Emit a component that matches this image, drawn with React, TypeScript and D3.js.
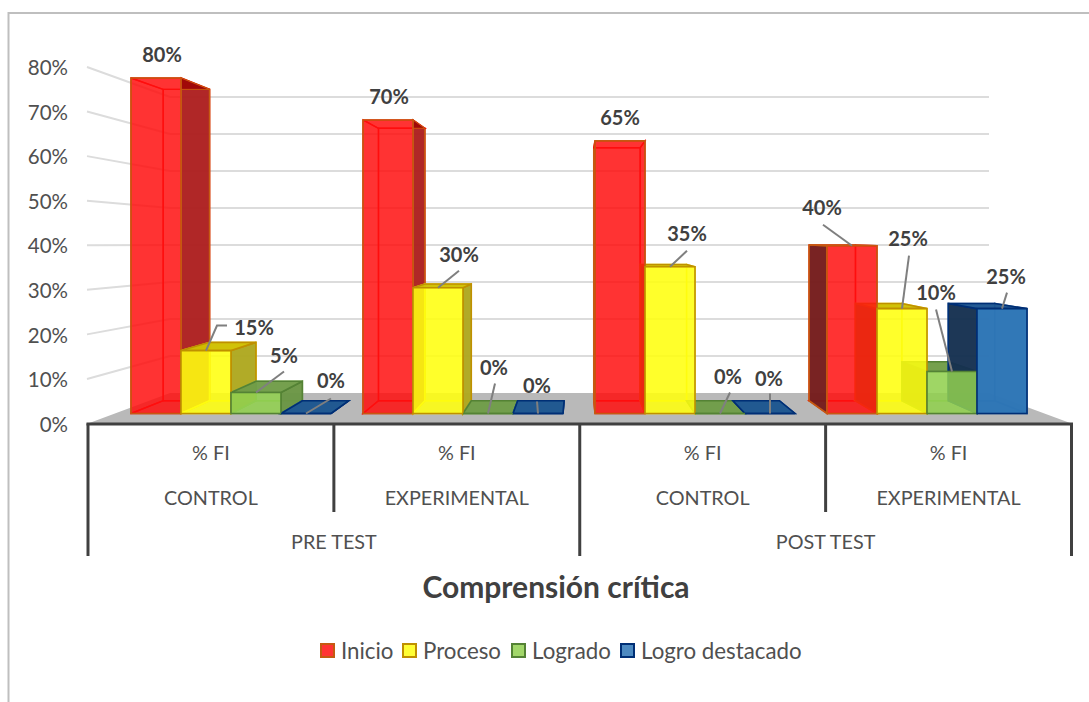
import * as d3 from 'd3'

const FONT = 'Lato, "Open Sans", sans-serif'
const width = 1089
const height = 702

// Data
const periods = ['PRE TEST', 'POST TEST']
const groups = ['CONTROL', 'EXPERIMENTAL', 'CONTROL', 'EXPERIMENTAL']
const measure = '% FI'
const seriesNames = ['Inicio', 'Proceso', 'Logrado', 'Logro destacado']
const inicio = [80, 70, 65, 40]
const proceso = [15, 30, 35, 25]
const logrado = [5, 0, 0, 10]
const destacado = [0, 0, 0, 25]
const seriesValues = [inicio, proceso, logrado, destacado]
const yTicks = [0, 10, 20, 30, 40, 50, 60, 70, 80]
const title = 'Comprensión crítica'

// Colours per series
const palette = [
  { fill: '#ff1010', alpha: 0.82, edge: '#c55a11', inner: '#ff0000', right: '#ad2020', left: '#741c1c', top: '#a00808' },
  { fill: '#ffff10', alpha: 0.86, edge: '#bf9000', inner: '#f5e800', right: '#aea820', left: '#8a8a10', top: '#cfc000' },
  { fill: '#92d050', alpha: 0.85, edge: '#548235', inner: '#7fb848', right: '#6a9545', left: '#55702f', top: '#6f9c48' },
  { fill: '#2e75b6', alpha: 0.98, edge: '#002f75', inner: '#1f5a9a', right: '#1f4e79', left: '#15304f', top: '#1c5590' },
]

// Data label placement, relative to the top centre of each bar: label centre, then leader points
type Offset = { dx: number; dy: number; leader: number[][] }
const labelOffsets: Offset[][] = [
  [
    { dx: 6, dy: -23, leader: [] },
    { dx: 48, dy: -23, leader: [[11, -25], [21, -25]] },
    { dx: 28, dy: -37, leader: [[28, -21]] },
    { dx: 25, dy: -33, leader: [[25, -15]] },
  ],
  [
    { dx: 1, dy: -23, leader: [] },
    { dx: 21, dy: -33, leader: [[21, -17]] },
    { dx: 6, dy: -46, leader: [[7, -30]] },
    { dx: -1, dy: -28, leader: [[-1, -12]] },
  ],
  [
    { dx: 0, dy: -23, leader: [] },
    { dx: 17, dy: -33, leader: [[17, -16]] },
    { dx: 8, dy: -37, leader: [[10, -21]] },
    { dx: -1, dy: -35, leader: [[0, -20]] },
  ],
  [
    { dx: -30, dy: -38, leader: [[-29, -21]] },
    { dx: 6, dy: -70, leader: [[7, -53]] },
    { dx: -16, dy: -79, leader: [[-16, -62]] },
    { dx: 4, dy: -32, leader: [[5, -16]] },
  ],
]

// Scales: front plane of the bars, and the wall planes of the 3D box
const yBar = d3.scaleLinear().domain([0, 80]).range([413.5, 78])
const yWallFront = d3.scaleLinear().domain([0, 80]).range([423.5, 67])
const yWallBack = d3.scaleLinear().domain([0, 80]).range([393, 97])
const xWall = { frontLeft: 88, frontRight: 1071.5, backLeft: 170, backRight: 989 }

const xAxisGroup = d3.scaleBand().domain(d3.range(4).map(String)).range([xWall.frontLeft, xWall.frontRight])
const xAxisPeriod = d3.scaleBand().domain(periods).range([xWall.frontLeft, xWall.frontRight])
const xGroup = d3.scaleBand().domain(d3.range(4).map(String)).range([131, 1059])
const xSeries = d3.scaleBand().domain(seriesNames).range([0, 200])

// Perspective: the bar depth shrinks toward a vanishing point
const vanish = { x: 578, y: 236, k: 0.928 }
const back = (p: number[]) => [
  vanish.x + vanish.k * (p[0] - vanish.x),
  vanish.y + vanish.k * (p[1] - vanish.y),
]
const poly = (pts: number[][]) => d3.line()(pts as [number, number][]) + 'Z'

function Bar({ g, s, layer }: { g: number; s: number; layer: 'rear' | 'front' }) {
  const c = palette[s]
  const x0 = xGroup(String(g))! + xSeries(seriesNames[s])!
  const x1 = x0 + xSeries.bandwidth()
  const yt = yBar(seriesValues[s][g])
  const yb = yBar(0)
  const fTL = [x0, yt]
  const fTR = [x1, yt]
  const fBL = [x0, yb]
  const fBR = [x1, yb]
  const bTL = back(fTL)
  const bTR = back(fTR)
  const bBL = back(fBL)
  const bBR = back(fBR)

  if (layer === 'front') {
    return (
      <path d={poly([fTL, fTR, fBR, fBL])} fill={c.fill} fillOpacity={c.alpha} stroke={c.edge} strokeWidth={1.6} />
    )
  }

  const inner = { fill: c.fill, fillOpacity: 0.2, stroke: c.inner, strokeWidth: 1.4, strokeOpacity: 0.9 }
  const outer = (fill: string) => ({ fill, fillOpacity: 0.96, stroke: c.edge, strokeWidth: 1.6 })
  const leftOut = bTL[0] < fTL[0]
  const rightOut = bTR[0] > fTR[0]
  const topOut = bTL[1] < fTL[1]

  return (
    <g>
      <path d={poly([bTL, bTR, bBR, bBL])} {...inner} />
      <path d={poly([fBL, fBR, bBR, bBL])} {...inner} />
      <path d={poly([fTL, fBL, bBL, bTL])} {...(leftOut ? outer(c.left) : inner)} />
      <path d={poly([fTR, fBR, bBR, bTR])} {...(rightOut ? outer(c.right) : inner)} />
      <path d={poly([fTL, fTR, bTR, bTL])} {...(topOut ? outer(c.top) : inner)} />
      {/* seen from below: only the corner past the front face shows dark */}
      {!topOut && rightOut && <path d={poly([fTR, bTR, [fTR[0], bTR[1]]])} fill={c.top} stroke={c.edge} strokeWidth={1} />}
    </g>
  )
}

export default function App() {
  const barKeys = groups.flatMap((_, g) => seriesNames.map((_, s) => ({ g, s })))
  const legendX = [320, 402, 511, 620]

  return (
    <svg
      width={width}
      height={height}
      style={{ position: 'absolute', left: 0, top: 0, background: '#fff' }}
      fontFamily={FONT}
    >
      {/* chart frame, only top and left show */}
      <path d={`M8.5,${height}V13H${width}`} fill="none" stroke="#bfbfbf" strokeWidth={2} />

      {/* gridlines on side wall and back wall */}
      {yTicks.filter((v) => v > 0).map((v) => (
        <path
          key={v}
          d={d3.line()([
            [xWall.frontLeft - 1, yWallFront(v)],
            [xWall.backLeft, yWallBack(v)],
            [xWall.backRight, yWallBack(v)],
          ])!}
          fill="none"
          stroke="#dcdcdc"
          strokeWidth={2}
        />
      ))}

      {/* floor */}
      <path
        d={poly([
          [xWall.frontLeft, yWallFront(0)],
          [xWall.backLeft, yWallBack(0)],
          [xWall.backRight, yWallBack(0)],
          [xWall.frontRight, yWallFront(0)],
        ])}
        fill="#b9b9b9"
      />

      {/* y labels */}
      {yTicks.map((v) => (
        <text key={v} x={68} y={yWallFront(v) + 1} dy="0.35em" textAnchor="end" fontSize={20.5} fill="#505050">
          {d3.format('.0%')(v / 100)}
        </text>
      ))}

      {/* bars */}
      {barKeys.map(({ g, s }) => <Bar key={`r${g}-${s}`} g={g} s={s} layer="rear" />)}
      {barKeys.map(({ g, s }) => <Bar key={`f${g}-${s}`} g={g} s={s} layer="front" />)}

      {/* data labels and leaders */}
      {barKeys.map(({ g, s }) => {
        const v = seriesValues[s][g]
        const cx = xGroup(String(g))! + xSeries(seriesNames[s])! + xSeries.bandwidth() / 2
        const cy = yBar(v)
        const o = labelOffsets[g][s]
        return (
          <g key={`l${g}-${s}`}>
            {o.leader.length > 0 && (
              <path
                d={d3.line()([[cx, cy], ...o.leader.map((p) => [cx + p[0], cy + p[1]] as [number, number])])!}
                fill="none"
                stroke="#7f7f7f"
                strokeWidth={2}
              />
            )}
            <text
              x={cx + o.dx}
              y={cy + o.dy}
              dy="0.35em"
              textAnchor="middle"
              fontSize={20}
              fontWeight={700}
              fill="#404040"
            >
              {v}%
            </text>
          </g>
        )
      })}

      {/* multi level category axis */}
      <g stroke="#404040" strokeWidth={3} fill="none">
        <path d={`M${xWall.frontLeft - 1.5},${yWallFront(0) + 0.5}H${xWall.frontRight + 1.5}`} />
        {periods.map((p) => (
          <path key={p} d={`M${xAxisPeriod(p)},${yWallFront(0)}V556`} />
        ))}
        <path d={`M${xWall.frontRight},${yWallFront(0)}V556`} />
        {[1, 3].map((g) => (
          <path key={g} d={`M${xAxisGroup(String(g))},${yWallFront(0)}V512`} />
        ))}
      </g>
      <g textAnchor="middle" fontSize={19.8} fill="#505050">
        {groups.map((name, g) => {
          const cx = xAxisGroup(String(g))! + xAxisGroup.bandwidth() / 2
          return (
            <g key={g}>
              <text x={cx} y={453} dy="0.35em">{measure}</text>
              <text x={cx} y={498} dy="0.35em">{name}</text>
            </g>
          )
        })}
        {periods.map((p) => (
          <text key={p} x={xAxisPeriod(p)! + xAxisPeriod.bandwidth() / 2} y={542} dy="0.35em">{p}</text>
        ))}
      </g>

      <text x={556} y={587} dy="0.35em" textAnchor="middle" fontSize={30} fontWeight={700} fill="#404040">
        {title}
      </text>

      {/* legend */}
      {seriesNames.map((name, s) => (
        <g key={name} transform={`translate(${legendX[s]},643)`}>
          <rect x={1} y={1} width={13} height={13} fill={palette[s].fill} fillOpacity={0.85} stroke={palette[s].edge} strokeWidth={2} />
          <text x={21} y={8} dy="0.35em" fontSize={22.3} fill="#505050">{name}</text>
        </g>
      ))}
    </svg>
  )
}
